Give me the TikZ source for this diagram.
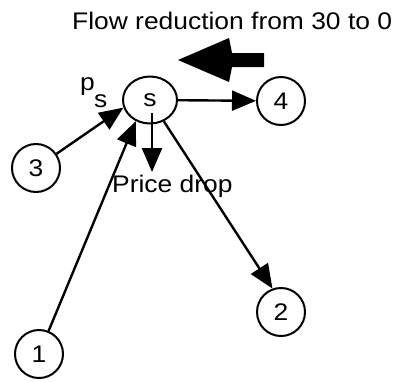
\documentclass[tikz,border=0pt]{standalone}
\usepackage{fontspec}
\usetikzlibrary{arrows.meta,shapes.geometric}
\newfontfamily\diagfont[FakeStretch=1.1]{Liberation Sans}
\begin{document}
\begin{tikzpicture}[x=1pt,y=-1pt,
  every node/.style={font=\diagfont\fontsize{24}{27}\selectfont},
  vertex/.style={circle,draw,line width=2pt,minimum size=48pt,inner sep=0pt},
  conn/.style={line width=2.4pt,-{Triangle[length=24pt,width=20pt]}},
  lbl/.style={anchor=base west,inner sep=0pt}]
\useasboundingbox (0,0) rectangle (393,381);

% network nodes
\node[ellipse,draw,line width=2pt,minimum width=54pt,minimum height=47pt,inner sep=0pt] (s) at (150,100) {s};
\node[vertex] (n4) at (281,101) {4};
\node[vertex] (n3) at (36,168) {3};
\node[vertex] (n2) at (281,312) {2};
\node[vertex] (n1) at (39,354) {1};

% flows through s
\draw[conn] (s) -- (n4);
\draw[conn] (n3) -- (s.196);
\draw[conn] (n1) -- (s.236);
\draw[conn] (s) -- (n2.110);

% price drop at s
\coordinate (pdtop) at (152,113);
\coordinate (pdtip) at (152,172);
\draw[conn] (pdtop) -- (pdtip);
\node[lbl] (pdrop) at (112,192) {Price drop};

% price label
\node[lbl] (p) at (80,90) {p};
\node[lbl] (psub) at (94,107) {s};

% heading and the flow reduction arrow
\node[lbl] (title) at (72,29) {Flow reduction from 30 to 0};
\fill (178,60) -- (229,38) -- (232,53) -- (264,53) -- (264,67) -- (232,67) -- (229,82) -- cycle;
\end{tikzpicture}
\end{document}
